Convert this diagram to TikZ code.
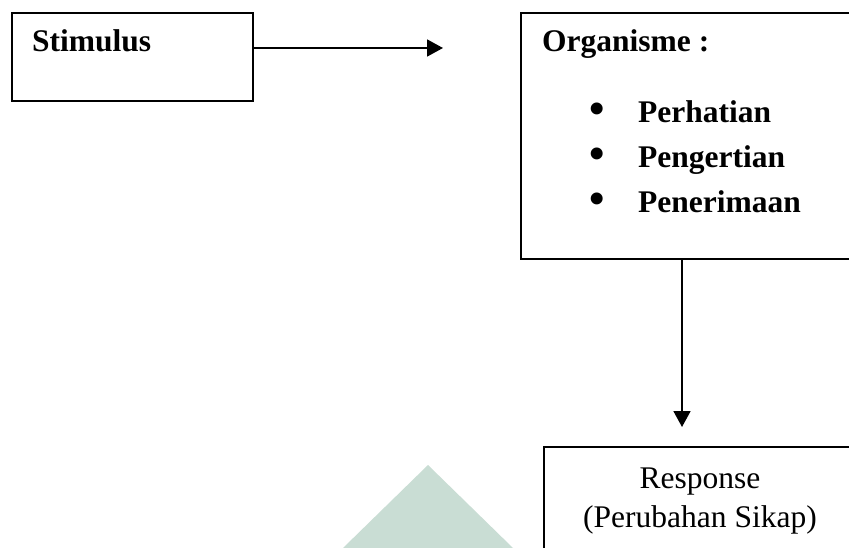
\documentclass[tikz,border=0pt]{standalone}
\usepackage{fontspec}
\setmainfont{Liberation Serif}
\usetikzlibrary{arrows.meta}
\definecolor{wmark}{RGB}{201,221,212}
\tikzset{
  boxline/.style={draw=black, line width=1.8pt},
  arr/.style={draw=black, line width=1.8pt, -{Triangle[length=16pt,width=17pt]}},
  txt/.style={inner sep=0pt, font=\fontsize{31.5}{40}\selectfont},
  btxt/.style={txt, font=\fontsize{31.5}{40}\selectfont\bfseries},
  bul/.style={inner sep=0pt, font=\fontsize{44}{50}\selectfont\bfseries},
}
\begin{document}
\begin{tikzpicture}[x=1pt,y=-1pt]
\useasboundingbox (0,0) rectangle (849,548);
\clip (0,0) rectangle (849,548);
% watermark
\fill[wmark] (428,465) -- (343,548) -- (513,548) -- cycle;
% boxes
\node[boxline, rectangle, minimum width=241pt, minimum height=88pt, anchor=north west, inner sep=0pt] (stim) at (11,12) {};
\node[boxline, rectangle, minimum width=360pt, minimum height=246pt, anchor=north west, inner sep=0pt] (org) at (520,12) {};
\node[boxline, rectangle, minimum width=340pt, minimum height=140pt, anchor=north west, inner sep=0pt] (resp) at (543,446) {};
% texts
\node[btxt, anchor=base west] (tstim) at (32,52) {Stimulus};
\node[btxt, anchor=base west] (torg) at (542,52) {Organisme :};
\node[bul, anchor=base] (b1) at (597,124) {•};
\node[bul, anchor=base] (b2) at (597,169) {•};
\node[bul, anchor=base] (b3) at (597,214) {•};
\node[btxt, anchor=base west] (t1) at (638,123) {Perhatian};
\node[btxt, anchor=base west] (t2) at (638,168) {Pengertian};
\node[btxt, anchor=base west] (t3) at (638,213) {Penerimaan};
\node[txt, anchor=base] (r1) at (700,488) {Response};
\node[txt, anchor=base] (r2) at (700,527) {(Perubahan Sikap)};
% connectors
\coordinate (tipA) at (443,48);
\coordinate (tipB) at (682,427);
\draw[arr] (stim.east |- tipA) -- (tipA);
\draw[arr] (tipB |- org.south) -- (tipB);
\end{tikzpicture}
\end{document}
